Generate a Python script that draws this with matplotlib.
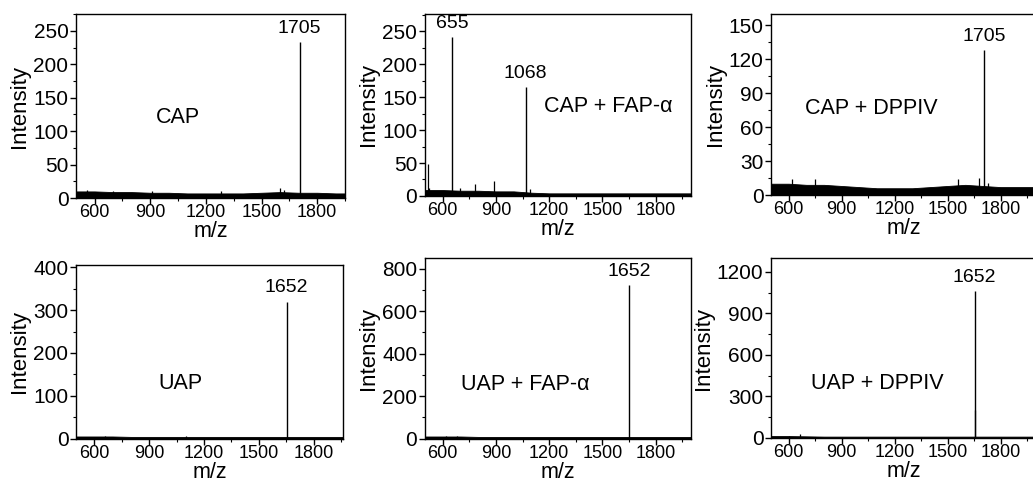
import numpy as np
import matplotlib
matplotlib.use("Agg")
import matplotlib.pyplot as plt
from matplotlib.ticker import MultipleLocator

plt.rcParams["font.family"] = ["Liberation Sans", "DejaVu Sans"]

# Panel names (text inside each spectrum)
panel_names = ["CAP", "CAP + FAP-\u03b1", "CAP + DPPIV",
               "UAP", "UAP + FAP-\u03b1", "UAP + DPPIV"]

# Baseline noise envelope, read every 100 m/z from 500 to 2000
noise_mz = [500, 600, 700, 800, 900, 1000, 1100, 1200,
            1300, 1400, 1500, 1600, 1700, 1800, 1900, 2000]
noise_cap = [10, 10, 9, 9, 8, 8, 7, 7, 7, 7, 8, 9, 8, 8, 7, 7]
noise_cap_fap = [9, 9, 8, 8, 7, 7, 5, 4, 4, 4, 4, 4, 4, 4, 4, 4]
noise_cap_dpp = [10, 10, 9, 9, 8, 7, 6, 6, 6, 7, 8, 9, 8, 7, 7, 7]
noise_uap = [5, 5, 5, 4, 4, 4, 4, 4, 4, 4, 4, 4, 4, 4, 4, 4]
noise_uap_fap = [10, 10, 10, 8, 8, 8, 8, 8, 8, 8, 8, 8, 8, 8, 8, 8]
noise_uap_dpp = [14, 14, 12, 10, 10, 10, 10, 10, 10, 10, 10, 10, 10, 10, 10, 10]

# Small unlabelled spikes (m/z, intensity)
spikes_cap_mz = [560, 700, 910, 1280, 1600, 1620]
spikes_cap_int = [12, 11, 11, 10, 15, 12]
spikes_cap_fap_mz = [515, 520, 700, 780, 890, 1090]
spikes_cap_fap_int = [48, 12, 12, 18, 22, 10]
spikes_cap_dpp_mz = [620, 750, 1560, 1680, 1730]
spikes_cap_dpp_int = [14, 14, 14, 15, 11]
spikes_uap_mz = [660, 1100]
spikes_uap_int = [7, 5]
spikes_uap_fap_mz = [620, 680]
spikes_uap_fap_int = [14, 12]
spikes_uap_dpp_mz = [600, 665, 1654]
spikes_uap_dpp_int = [15, 30, 200]

# Labelled peaks
peaks_cap_mz = [1705]
peaks_cap_int = [233]
peaks_cap_fap_mz = [655, 1068]
peaks_cap_fap_int = [241, 165]
peaks_cap_dpp_mz = [1705]
peaks_cap_dpp_int = [128]
peaks_uap_mz = [1652]
peaks_uap_int = [319]
peaks_uap_fap_mz = [1652]
peaks_uap_fap_int = [721]
peaks_uap_dpp_mz = [1652]
peaks_uap_dpp_int = [1060]

noise = [noise_cap, noise_cap_fap, noise_cap_dpp,
         noise_uap, noise_uap_fap, noise_uap_dpp]
spikes = [(spikes_cap_mz, spikes_cap_int), (spikes_cap_fap_mz, spikes_cap_fap_int),
          (spikes_cap_dpp_mz, spikes_cap_dpp_int), (spikes_uap_mz, spikes_uap_int),
          (spikes_uap_fap_mz, spikes_uap_fap_int), (spikes_uap_dpp_mz, spikes_uap_dpp_int)]
peaks = [(peaks_cap_mz, peaks_cap_int), (peaks_cap_fap_mz, peaks_cap_fap_int),
         (peaks_cap_dpp_mz, peaks_cap_dpp_int), (peaks_uap_mz, peaks_uap_int),
         (peaks_uap_fap_mz, peaks_uap_fap_int), (peaks_uap_dpp_mz, peaks_uap_dpp_int)]

# Layout: axes rectangles in figure fractions, axis ranges, y steps, name positions
rects = [
    [0.0736, 0.589, 0.2604, 0.3817],
    [0.4114, 0.5934, 0.2575, 0.3776],
    [0.7464, 0.5954, 0.2565, 0.3755],
    [0.0736, 0.0900, 0.2585, 0.3600],
    [0.4114, 0.0900, 0.2575, 0.3747],
    [0.7464, 0.0913, 0.2565, 0.3734],
]
xlims = [(500, 1950), (500, 2000), (500, 2000), (500, 1960), (500, 2000), (500, 2000)]
ylims = [275, 276, 160, 405, 850, 1300]
ysteps = [50, 50, 30, 100, 200, 300]
name_pos = [(0.38, 0.44), (0.69, 0.49), (0.38, 0.48),
            (0.39, 0.32), (0.376, 0.30), (0.40, 0.30)]

fig = plt.figure(figsize=(10.33, 4.82), dpi=100)

for i in range(6):
    ax = fig.add_axes(rects[i])
    ax.fill_between(noise_mz, 0, noise[i], color="black", lw=0.6)
    ax.vlines(spikes[i][0], 0, spikes[i][1], color="black", lw=0.9)
    ax.vlines(peaks[i][0], 0, peaks[i][1], color="black", lw=1.0)
    for mz, inten in zip(*peaks[i]):
        ax.annotate(str(mz), (mz, inten), xytext=(0, 4), textcoords="offset points",
                    ha="center", va="bottom", fontsize=14)
    ax.text(name_pos[i][0], name_pos[i][1], panel_names[i], transform=ax.transAxes,
            ha="center", va="center", fontsize=15.5)

    ax.set_xlim(*xlims[i])
    ax.set_ylim(0, ylims[i])
    ax.xaxis.set_major_locator(MultipleLocator(300))
    ax.xaxis.set_minor_locator(MultipleLocator(150))
    ax.yaxis.set_major_locator(MultipleLocator(ysteps[i]))
    ax.yaxis.set_minor_locator(MultipleLocator(ysteps[i] / 2))
    ax.set_xticks([600, 900, 1200, 1500, 1800])
    ax.tick_params(which="major", direction="out", length=4, width=1, pad=1.5)
    ax.tick_params(which="minor", direction="out", length=2.5, width=0.8)
    ax.tick_params(axis="x", labelsize=13, pad=0.5)
    ax.tick_params(axis="y", labelsize=15)
    for s in ax.spines.values():
        s.set_linewidth(1.0)
    ax.set_xlabel("m/z", fontsize=15.5, labelpad=0)
    ax.set_ylabel("Intensity", fontsize=16, labelpad=2)

fig.savefig("out.png", dpi=100)
